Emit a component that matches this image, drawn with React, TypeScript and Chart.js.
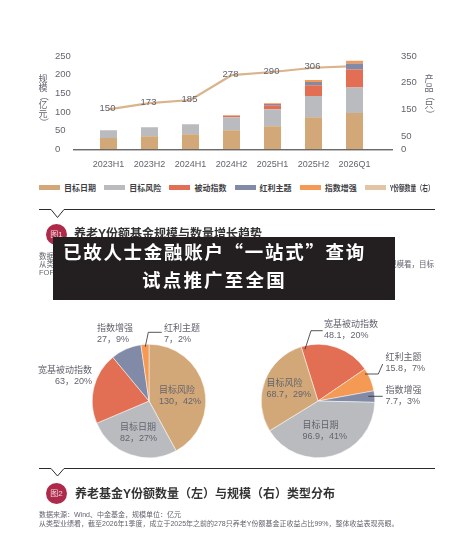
import React, { useEffect, useRef } from "react";
import { Chart, registerables } from "chart.js";

Chart.register(...registerables);

const categories = ["2023H1", "2023H2", "2024H1", "2024H2", "2025H1", "2025H2", "2026Q1"];
const targetDate = [30, 35, 40, 51, 62, 86, 97];
const targetRisk = [21, 24, 27, 35, 45.5, 56.5, 68.7];
const passiveIndex = [0, 0, 0, 4, 10.5, 29, 48.1];
const dividendTheme = [0, 0, 0, 0, 3.5, 9, 15.8];
const indexEnhanced = [0, 0, 0, 1, 2, 5.5, 7.7];
const fundCount = [150, 173, 185, 278, 290, 306, 312];
const countLabels = ["150", "173", "185", "278", "290", "306", ""];
const leftTicks = [0, 50, 100, 150, 200, 250];
const rightTicks = [0, 50, 150, 250, 350];
const legendNames = ["目标日期", "目标风险", "被动指数", "红利主题", "指数增强", "Y份额数量（右）"];

const pieCountNames = ["目标风险", "目标日期", "宽基被动指数", "指数增强", "红利主题"];
const pieCountValues = [130, 82, 63, 27, 7];
const pieCountPct = [42, 27, 20, 9, 2];
const pieSizeNames = ["宽基被动指数", "红利主题", "指数增强", "目标日期", "目标风险"];
const pieSizeValues = [48.1, 15.8, 7.7, 96.9, 68.7];
const pieSizePct = [20, 7, 3, 41, 29];

const TAN = "#D2A878";
const GRAY = "#B9BBBF";
const RED = "#E26F54";
const BLUE = "#818AA6";
const ORANGE = "#F59A55";
const LINE = "#D9B48C";
const LINE_KEY = "#E3C5A5";
const TEXT = "#63646e";
const FONT = '"Liberation Sans", "Noto Sans CJK SC", sans-serif';
const CJK = '"Noto Sans CJK SC", sans-serif';

const barColors = [TAN, GRAY, RED, BLUE, ORANGE, LINE_KEY];
const pieCountColors = [TAN, GRAY, RED, BLUE, ORANGE];
const pieSizeColors = [RED, ORANGE, BLUE, GRAY, TAN];

const pieCountSpots: [number, number, string][] = [
  [159, 385, "left"], [120, 422, "left"], [92, 365, "right"], [97, 323, "left"], [164, 323, "left"],
];
const pieSizeSpots: [number, number, string][] = [
  [324, 319, "left"], [385.5, 352, "left"], [385.5, 385, "left"], [302.5, 420, "left"], [266.5, 378, "left"],
];

const baselinePlugin = {
  id: "baseline",
  afterDraw(chart: any) {
    const { ctx, chartArea } = chart;
    ctx.save();
    ctx.strokeStyle = "#2b2b2b";
    ctx.lineWidth = 1;
    ctx.beginPath();
    ctx.moveTo(chartArea.left - 15, chartArea.bottom + 0.5);
    ctx.lineTo(chartArea.right + 18, chartArea.bottom + 0.5);
    ctx.stroke();
    ctx.restore();
  },
};

const countLabelPlugin = {
  id: "countLabels",
  afterDatasetsDraw(chart: any) {
    const { ctx } = chart;
    const idx = chart.data.datasets.findIndex((d: any) => d.type === "line");
    const meta = chart.getDatasetMeta(idx);
    ctx.save();
    ctx.font = `9.5px ${FONT}`;
    ctx.fillStyle = TEXT;
    ctx.textAlign = "center";
    ctx.textBaseline = "middle";
    meta.data.forEach((pt: any, i: number) => {
      if (countLabels[i]) ctx.fillText(countLabels[i], pt.x - 1, pt.y - 1);
    });
    ctx.restore();
  },
};

function BarChart() {
  const ref = useRef<HTMLCanvasElement>(null);
  useEffect(() => {
    const bar = (i: number, data: number[]) => ({
      type: "bar" as const,
      label: legendNames[i],
      data,
      backgroundColor: barColors[i],
      stack: "s",
      yAxisID: "y",
      order: 1,
      barPercentage: 0.415,
      categoryPercentage: 1,
      borderWidth: 0,
    });
    const chart = new Chart(ref.current!, {
      type: "bar",
      data: {
        labels: categories,
        datasets: [
          bar(0, targetDate),
          bar(1, targetRisk),
          bar(2, passiveIndex),
          bar(3, dividendTheme),
          bar(4, indexEnhanced),
          {
            type: "line" as const,
            label: legendNames[5],
            data: fundCount,
            borderColor: LINE,
            backgroundColor: LINE_KEY,
            borderWidth: 2.2,
            pointRadius: 0,
            yAxisID: "y2",
            order: 10,
            tension: 0,
          },
        ] as any,
      },
      options: {
        responsive: false,
        animation: false,
        events: [],
        layout: { padding: { left: 31, top: 56, right: 0, bottom: 0 } },
        plugins: {
          tooltip: { enabled: false },
          legend: { display: false },
        },
        scales: {
          x: {
            stacked: true,
            grid: { display: false, drawTicks: false },
            border: { display: false },
            ticks: { color: TEXT, font: { size: 9, family: FONT }, padding: 10, maxRotation: 0, autoSkip: false },
            afterFit(s: any) { s.height = 26; },
          },
          y: {
            stacked: true,
            position: "left",
            min: 0,
            max: 250,
            grid: { display: false, drawTicks: false },
            border: { display: false },
            afterBuildTicks(s: any) { s.ticks = leftTicks.map((value) => ({ value })); },
            ticks: { color: TEXT, font: { size: 9.5, family: FONT }, crossAlign: "far", padding: 0 },
            afterFit(s: any) { s.width = 33; },
          },
          y2: {
            position: "right",
            min: 0,
            max: 350,
            grid: { display: false, drawTicks: false },
            border: { display: false },
            afterBuildTicks(s: any) { s.ticks = rightTicks.map((value) => ({ value })); },
            ticks: { color: TEXT, font: { size: 9.5, family: FONT }, padding: 26 },
            afterFit(s: any) { s.width = 74; },
          },
        },
      } as any,
      plugins: [baselinePlugin, countLabelPlugin],
    } as any);
    return () => chart.destroy();
  }, []);
  return (
    <canvas
      ref={ref}
      width={425}
      height={181}
      style={{ position: "absolute", left: 24, top: 0, width: 425, height: 181 }}
    />
  );
}

function Legend() {
  return (
    <>
      {legendNames.map((n, i) => {
        const x = 39 + i * 65.2;
        const last = i === legendNames.length - 1;
        return (
          <React.Fragment key={n}>
            <div style={{ position: "absolute", left: x, top: 185, width: 21, height: 4.5, background: barColors[i] }} />
            <div
              style={{
                position: "absolute",
                left: x + 25,
                top: 181.5,
                font: `bold 8px/11px ${CJK}`,
                color: "#3f3f45",
                whiteSpace: "nowrap",
                transform: last ? "scaleX(0.72)" : undefined,
                transformOrigin: "left center",
              }}
            >
              {n}
            </div>
          </React.Fragment>
        );
      })}
    </>
  );
}

function PieChart(props: { names: string[]; values: number[]; colors: string[]; rotation: number; cx: number; cy: number }) {
  const ref = useRef<HTMLCanvasElement>(null);
  useEffect(() => {
    const chart = new Chart(ref.current!, {
      type: "pie",
      data: {
        labels: props.names,
        datasets: [{ data: props.values, backgroundColor: props.colors, borderColor: "#ffffff", borderWidth: 0.5, hoverOffset: 0 }],
      },
      options: {
        responsive: false,
        animation: false,
        events: [],
        rotation: props.rotation,
        plugins: { legend: { display: false }, tooltip: { enabled: false } },
      } as any,
    });
    return () => chart.destroy();
  }, []);
  return (
    <canvas
      ref={ref}
      width={114}
      height={114}
      style={{ position: "absolute", left: props.cx - 57, top: props.cy - 57, width: 114, height: 114 }}
    />
  );
}

function PieLabels(props: { names: string[]; values: number[]; pct: number[]; spots: [number, number, string][] }) {
  return (
    <>
      {props.names.map((n, i) => {
        const [x, y, align] = props.spots[i];
        const pos: any = align === "right" ? { right: 449 - x } : { left: x };
        return (
          <div
            key={n}
            style={{
              position: "absolute",
              ...pos,
              top: y,
              textAlign: align as any,
              font: `9px/11px ${FONT}`,
              color: TEXT,
              whiteSpace: "nowrap",
            }}
          >
            {n}
            <br />
            {`${props.values[i]}，${props.pct[i]}%`}
          </div>
        );
      })}
    </>
  );
}

function Txt(props: { x?: number; r?: number; y: number; size: number; color: string; bold?: boolean; spacing?: number; z?: number; family?: string; children: any }) {
  return (
    <div
      style={{
        position: "absolute",
        left: props.x,
        right: props.r,
        top: props.y,
        font: `${props.bold ? "bold " : ""}${props.size}px/${props.size + 3}px ${props.family || FONT}`,
        color: props.color,
        letterSpacing: props.spacing,
        whiteSpace: "nowrap",
        zIndex: props.z,
      }}
    >
      {props.children}
    </div>
  );
}

function Badge(props: { cx: number; cy: number; text: string }) {
  return (
    <div
      style={{
        position: "absolute",
        left: props.cx - 10.5,
        top: props.cy - 10.5,
        width: 21,
        height: 21,
        borderRadius: "50%",
        background: "#AE2A4B",
        color: "#f0d5da",
        font: `8px/21px ${FONT}`,
        textAlign: "center",
      }}
    >
      {props.text}
    </div>
  );
}

function VerticalTitle(props: { x: number; y: number; text: string }) {
  return (
    <div style={{ position: "absolute", left: props.x, top: props.y, width: 11, color: TEXT, font: `9px/8.7px ${CJK}`, textAlign: "center" }}>
      {Array.from(props.text).map((ch, i) => {
        const paren = ch === "（" || ch === "）";
        return (
          <div key={i} style={{ height: 8.7, transform: paren ? "rotate(90deg)" : undefined, transformOrigin: "center" }}>
            {ch}
          </div>
        );
      })}
    </div>
  );
}

export default function App() {
  return (
    <div style={{ position: "fixed", left: 0, top: 0, width: 449, height: 537, overflow: "hidden", background: "#fff" }}>
      <BarChart />
      <VerticalTitle x={37.5} y={75} text="规模（亿元）" />
      <VerticalTitle x={423.5} y={75} text="产品（只）" />
      <Legend />

      <svg width={449} height={537} style={{ position: "absolute", left: 0, top: 0 }}>
        <g fill="none" stroke="#2b2b2b" strokeWidth={1}>
          <polyline points="39,209.5 51,209.5 57.5,217.5 64,209.5 435,209.5" />
          <polyline points="39,468.5 51,468.5 57.5,476 64,468.5 435,468.5" />
        </g>
      </svg>

      <Badge cx={56.5} cy={234} text="图1" />
      <Txt x={74} y={227} size={12} color="#333" bold>养老Y份额基金规模与数量增长趋势</Txt>
      <Txt x={39} y={252} size={7.5} color={TEXT}>数据</Txt>
      <Txt x={39} y={260} size={7.5} color={TEXT}>从类</Txt>
      <Txt x={39} y={268} size={7.5} color={TEXT}>FOF</Txt>
      <Txt r={15} y={260} size={7.5} color={TEXT}>规模看，目标</Txt>

      <PieChart names={pieCountNames} values={pieCountValues} colors={pieCountColors} rotation={0} cx={149} cy={400.5} />
      <PieChart names={pieSizeNames} values={pieSizeValues} colors={pieSizeColors} rotation={-17.3} cx={317.5} cy={400.5} />
      <svg width={449} height={537} style={{ position: "absolute", left: 0, top: 0 }}>
        <g fill="none" stroke="#2b2b2b" strokeWidth={0.8}>
          <polyline points="145.3,346.7 148.3,332.3 161.7,332.3" />
          <polyline points="305,349.3 311,330.7 322.7,330.7" />
          <polyline points="365,374 378.3,374 382.7,364" />
          <polyline points="368.3,396.3 382.7,396.3" />
        </g>
      </svg>
      <PieLabels names={pieCountNames} values={pieCountValues} pct={pieCountPct} spots={pieCountSpots} />
      <PieLabels names={pieSizeNames} values={pieSizeValues} pct={pieSizePct} spots={pieSizeSpots} />

      <Badge cx={56.5} cy={493.5} text="图2" />
      <Txt x={75} y={486.5} size={12} color="#333" bold>养老基金Y份额数量（左）与规模（右）类型分布</Txt>
      <Txt x={39} y={510} size={7} color={TEXT}>数据来源：Wind、中金基金，规模单位：亿元</Txt>
      <Txt x={39} y={518.5} size={7} color={TEXT}>从类型业绩看，截至2026年1季度，成立于2025年之前的278只养老Y份额基金正收益占比99%，整体收益表现亮眼。</Txt>

      <div style={{ position: "absolute", left: 53, top: 237, width: 342, height: 63, background: "#231F20", zIndex: 5 }} />
      <Txt x={63} y={241} size={18.5} color="#fff" bold spacing={1.7} z={6} family={CJK}>已故人士金融账户“一站式”查询</Txt>
      <Txt x={142} y={269} size={18.5} color="#fff" bold spacing={2.2} z={6} family={CJK}>试点推广至全国</Txt>
    </div>
  );
}
